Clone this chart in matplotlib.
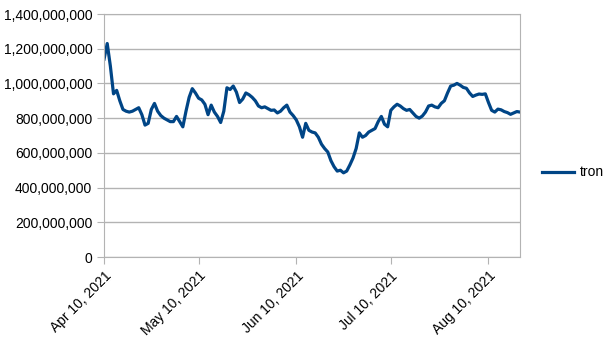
import numpy as np
import pandas as pd
import matplotlib
matplotlib.use("Agg")
import matplotlib.pyplot as plt
import matplotlib.dates as mdates
from matplotlib.ticker import FuncFormatter

# daily values, in billions, starting Apr 10, 2021
start_date = "2021-04-10"
tron = [
    1.14, 1.23, 1.10, 0.94, 0.96, 0.90, 0.85, 0.84, 0.835, 0.84,
    0.85, 0.86, 0.82, 0.76, 0.77, 0.85, 0.885, 0.84, 0.815, 0.80,
    0.79, 0.78, 0.78, 0.81, 0.78, 0.75, 0.84, 0.92, 0.97, 0.945,
    0.915, 0.905, 0.88, 0.82, 0.875, 0.835, 0.81, 0.775, 0.84, 0.975,
    0.965, 0.985, 0.95, 0.89, 0.91, 0.945, 0.935, 0.92, 0.90, 0.87,
    0.86, 0.865, 0.855, 0.845, 0.847, 0.83, 0.84, 0.86, 0.875, 0.835,
    0.815, 0.79, 0.75, 0.69, 0.77, 0.73, 0.72, 0.715, 0.69, 0.65,
    0.625, 0.605, 0.555, 0.52, 0.495, 0.50, 0.485, 0.495, 0.53, 0.57,
    0.625, 0.715, 0.69, 0.70, 0.72, 0.73, 0.74, 0.78, 0.81, 0.765,
    0.75, 0.845, 0.865, 0.88, 0.87, 0.855, 0.845, 0.85, 0.83, 0.81,
    0.80, 0.812, 0.835, 0.87, 0.875, 0.865, 0.86, 0.885, 0.90, 0.945,
    0.985, 0.99, 1.00, 0.99, 0.977, 0.972, 0.945, 0.925, 0.933, 0.939,
    0.937, 0.94, 0.89, 0.845, 0.835, 0.852, 0.848, 0.838, 0.832, 0.822,
    0.83, 0.838, 0.835,
]
tick_dates = ["2021-04-10", "2021-05-10", "2021-06-10", "2021-07-10", "2021-08-10"]

dates = pd.date_range(start_date, periods=len(tron), freq="D")
values = np.array(tron) * 1e9

plt.rcParams['font.family'] = ['Liberation Sans', 'DejaVu Sans']
grid_color = "#b3b3b3"

fig = plt.figure(figsize=(6.05, 3.4), dpi=100)
ax = fig.add_axes([0.172, 0.2441, 0.6875, 0.7147])

ax.plot(dates, values, color="#004586", linewidth=2.3, label="tron")

ax.set_xlim(dates[0], dates[-1])
ax.set_ylim(0, 1.4e9)
ax.set_yticks(np.arange(0, 1.4e9 + 1, 2e8))
ax.yaxis.set_major_formatter(FuncFormatter(lambda v, p: f"{int(v):,}"))
ax.set_xticks(pd.to_datetime(tick_dates))
ax.xaxis.set_major_formatter(mdates.DateFormatter("%b %d, %Y"))

ax.grid(axis="y", color=grid_color, linewidth=1)
ax.set_axisbelow(True)
for s in ax.spines.values():
    s.set_color(grid_color)
ax.tick_params(colors=grid_color, labelcolor="black", labelsize=10, length=5)
plt.setp(ax.get_xticklabels(), rotation=45, ha="right", rotation_mode="anchor")

fig.legend(loc="center left", bbox_to_anchor=(0.875, 0.493), frameon=False,
           fontsize=10, handlelength=2.3, handletextpad=0.4)

fig.savefig("out.png", dpi=100)
